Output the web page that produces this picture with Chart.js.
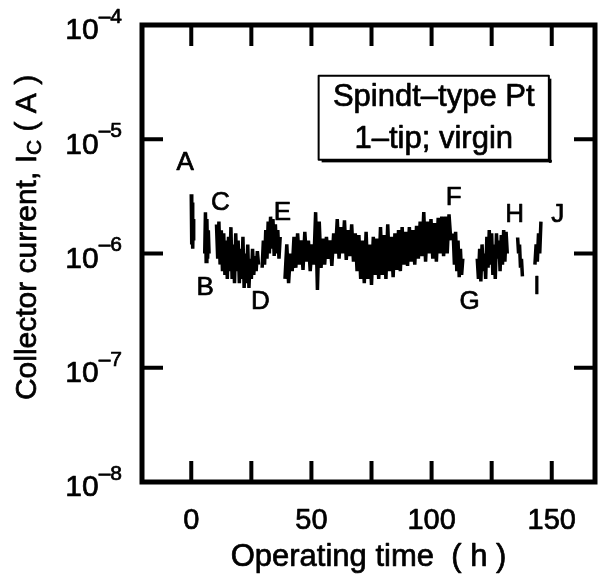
<!DOCTYPE html>
<html>
<head>
<meta charset="utf-8">
<script src="https://cdn.jsdelivr.net/npm/chart.js@4/dist/chart.umd.min.js"></script>
<style>
  html, body { margin: 0; padding: 0; background: #fff; }
</style>
</head>
<body>
<canvas id="chart" width="598" height="578"></canvas>
<script>
const runA = [3.3, 1.2, 2.8, 1.1, 2.0, 1.3];
const runB = [1.0, 2.3, 0.85, 2.0, 0.9, 1.6, 1.0];
const runC = [1.8, 0.9, 1.9, 0.8, 1.6, 0.7, 1.5, 0.65, 1.3, 0.6, 1.4, 0.7,
              1.7, 0.6, 1.2, 0.55, 1.5, 0.7, 1.3, 0.55, 1.1, 0.6, 1.4, 0.5,
              1.0, 0.55, 1.2, 0.5, 0.9, 0.6, 1.1, 0.65, 0.95, 0.7, 1.05, 0.8];
const runE = [0.75, 1.3, 0.8, 1.6, 0.9, 1.9, 1.0, 2.1, 1.1, 2.0, 0.95, 1.8, 1.0, 1.6, 0.9, 1.4];
const runF = [0.6, 1.2, 0.55, 1.0, 0.7, 1.4, 0.75, 1.5, 0.8, 1.3, 0.72, 1.55,
              0.85, 1.3, 0.7, 1.2, 0.8, 2.3, 0.48, 1.9, 0.75, 1.35, 0.8, 1.4,
              0.9, 1.3, 0.78, 1.5, 1.0, 2.0, 0.9, 1.7, 1.0, 1.95, 0.88, 1.6,
              0.95, 1.8, 0.85, 1.5, 0.7, 1.45, 0.6, 1.3, 0.55, 1.55, 0.6, 1.2,
              0.53, 1.4, 0.65, 1.35, 0.6, 1.7, 0.65, 1.45, 0.6, 1.8, 0.7, 1.4,
              0.62, 1.5, 0.72, 1.6, 0.7, 1.7, 0.8, 1.55, 0.78, 1.7, 0.85, 1.6,
              0.8, 1.75, 0.9, 1.9, 0.95, 2.3, 0.85, 1.9, 1.0, 2.0, 0.9, 1.85,
              0.85, 2.05, 1.0, 2.1, 0.95, 2.1, 1.0, 2.2, 1.3];
const runG = [1.5, 0.8, 1.55, 0.7, 1.3, 0.62, 1.1, 0.65, 0.9];
const runGH = [0.9, 0.6, 1.1, 0.57, 1.2, 0.7, 1.0, 0.6, 1.4, 0.75, 1.6, 0.8, 1.5,
               0.65, 1.2, 0.6, 1.5, 0.9, 1.3, 0.7, 1.45, 0.8, 1.6, 0.85, 1.55, 1.0];
const runH = [1.38, 1.0, 1.2, 0.75, 0.9, 0.63];
const runIJ = [0.8, 1.2, 0.85, 1.5, 1.0, 1.9];

// start time (h) and sampling interval (h) of each run
const runs = [runA, runB, runC, runE, runF, runG, runGH, runH, runIJ];
const runStart = [0, 5.6, 10.5, 29.5, 39, 109, 119, 135.8, 143];
const runStep = [0.2, 0.3, 0.5, 0.5, 0.75, 0.5, 0.5, 0.4, 0.5];

// axis ticks
const xTickMarks = [0, 25, 50, 75, 100, 125, 150];
const xTickLabels = [0, 50, 100, 150];
const yDecades = [-8, -7, -6, -5, -4];

// event markers A..J (time h, current µA)
const markText = ['A', 'B', 'C', 'D', 'E', 'F', 'G', 'H', 'I', 'J'];
const markTime = [-2.5, 5.8, 12.1, 28.8, 37.9, 109.2, 115.8, 134.6, 143.8, 152.5];
const markCurrent = [6.2, 0.5, 2.77, 0.38, 2.26, 3.06, 0.38, 2.17, 0.51, 2.17];

// note box corners (time h, current µA)
const noteLines = ['Spindt\u2013type Pt', '1\u2013tip; virgin'];
const noteTime = [53, 148.8];
const noteCurrent = [36, 6.6];

const FONT = '"Liberation Sans", Arial, Helvetica, sans-serif';

const datasets = runs.map((vals, r) => ({
    data: vals.map((v, i) => ({ x: runStart[r] + i * runStep[r], y: v * 1e-6 })),
    borderColor: '#000',
    borderWidth: 3.5,
    borderJoinStyle: 'miter',
    pointRadius: 0,
    tension: 0,
    fill: false
}));

// text drawn a little heavier, like the scanned original
function heavyText(ctx, s, px, py) {
    ctx.fillText(s, px, py);
    ctx.strokeText(s, px, py);
}

const framePlugin = {
    id: 'frame',
    afterDraw(chart) {
        const { ctx, chartArea: a, scales: { x, y } } = chart;
        ctx.save();
        ctx.strokeStyle = '#000';
        ctx.fillStyle = '#000';

        // frame
        ctx.lineWidth = 5;
        ctx.strokeRect(a.left, a.top, a.right - a.left, a.bottom - a.top);

        // inward ticks on all four sides
        ctx.lineWidth = 4;
        ctx.beginPath();
        xTickMarks.forEach(t => {
            const px = x.getPixelForValue(t);
            ctx.moveTo(px, a.bottom); ctx.lineTo(px, a.bottom - 21);
            ctx.moveTo(px, a.top); ctx.lineTo(px, a.top + 21);
        });
        yDecades.forEach(d => {
            const py = y.getPixelForValue(Math.pow(10, d));
            ctx.moveTo(a.left, py); ctx.lineTo(a.left + 21, py);
            ctx.moveTo(a.right, py); ctx.lineTo(a.right - 21, py);
        });
        ctx.stroke();

        ctx.lineWidth = 0.7;
        ctx.lineJoin = 'round';

        // x tick labels
        ctx.font = '29px ' + FONT;
        ctx.textAlign = 'center';
        ctx.textBaseline = 'middle';
        xTickLabels.forEach(t => {
            heavyText(ctx, String(t), x.getPixelForValue(t), a.bottom + 39);
        });

        // y tick labels 10^n
        yDecades.forEach(d => {
            const py = y.getPixelForValue(Math.pow(10, d));
            const sup = '\u2013' + Math.abs(d);
            ctx.font = '21px ' + FONT;
            const supW = ctx.measureText(sup).width;
            const right = a.left - 20;
            ctx.textAlign = 'right';
            heavyText(ctx, sup, right, py - 8);
            ctx.font = '30px ' + FONT;
            heavyText(ctx, '10', right - supW, py + 6);
        });

        // x title
        ctx.font = '31px ' + FONT;
        ctx.textAlign = 'center';
        heavyText(ctx, 'Operating time  ( h )', (a.left + a.right) / 2, a.bottom + 75);

        // y title with subscript
        ctx.save();
        ctx.translate(28, (a.top + a.bottom) / 2 - 16);
        ctx.rotate(-Math.PI / 2);
        const p1 = 'Collector current, I', p2 = 'C', p3 = ' ( A )';
        ctx.font = '30px ' + FONT;
        const w1 = ctx.measureText(p1).width, w3 = ctx.measureText(p3).width;
        ctx.font = '21px ' + FONT;
        const w2 = ctx.measureText(p2).width;
        let cx = -(w1 + w2 + w3) / 2;
        ctx.textAlign = 'left';
        ctx.font = '30px ' + FONT;
        heavyText(ctx, p1, cx, 0); cx += w1;
        ctx.font = '21px ' + FONT;
        heavyText(ctx, p2, cx, 7); cx += w2;
        ctx.font = '30px ' + FONT;
        heavyText(ctx, p3, cx, 0);
        ctx.restore();

        // event markers
        ctx.font = '26px ' + FONT;
        ctx.textAlign = 'center';
        markText.forEach((m, i) => {
            heavyText(ctx, m, x.getPixelForValue(markTime[i]), y.getPixelForValue(markCurrent[i] * 1e-6));
        });

        // note box
        const bx0 = x.getPixelForValue(noteTime[0]), bx1 = x.getPixelForValue(noteTime[1]);
        const by0 = y.getPixelForValue(noteCurrent[0] * 1e-6), by1 = y.getPixelForValue(noteCurrent[1] * 1e-6);
        ctx.lineWidth = 2;
        ctx.strokeRect(bx0, by0, bx1 - bx0, by1 - by0);
        ctx.fillRect(bx0 + 3, by1, bx1 - bx0, 2.5);
        ctx.fillRect(bx1, by0 + 3, 2.5, by1 - by0);
        ctx.lineWidth = 0.7;
        ctx.font = '31px ' + FONT;
        const lh = (by1 - by0) / noteLines.length;
        noteLines.forEach((s, i) => heavyText(ctx, s, (bx0 + bx1) / 2, by0 + lh * (i + 0.5) + 1));

        ctx.restore();
    }
};

new Chart(document.getElementById('chart'), {
    type: 'line',
    data: { datasets: datasets },
    options: {
        responsive: false,
        animation: false,
        events: [],
        layout: { padding: { top: 25, right: 3, left: 0, bottom: 0 } },
        plugins: { legend: { display: false }, tooltip: { enabled: false } },
        scales: {
            x: {
                type: 'linear',
                min: -20.5,
                max: 168,
                grid: { display: false },
                border: { display: false },
                ticks: { display: false },
                afterFit(s) { s.height = 96; }
            },
            y: {
                type: 'logarithmic',
                min: 1e-8,
                max: 1e-4,
                grid: { display: false },
                border: { display: false },
                ticks: { display: false },
                afterFit(s) { s.width = 142; }
            }
        }
    },
    plugins: [framePlugin]
});
</script>
</body>
</html>
